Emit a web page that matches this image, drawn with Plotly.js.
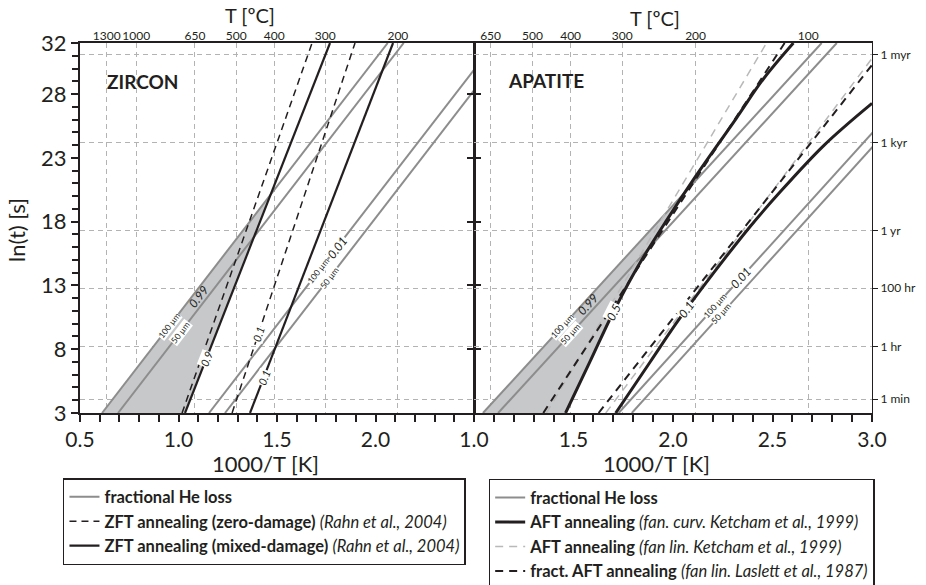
<!DOCTYPE html>
<html><head><meta charset="utf-8">
<script src="https://cdn.plot.ly/plotly-3.0.1.min.js"></script>
<style>html,body{margin:0;padding:0;background:#fff}#chart{width:926px;height:585px}</style>
</head><body><div id="chart"></div>
<script>
// ================= DATA =================
// straight lines: 1000/T [K] values at ln(t) = 3 and ln(t) = 32
const lineY = [3, 32];
// ZIRCON
const zrHe099_100um = [0.612, 2.062];
const zrHe099_50um  = [0.693, 2.143];
const zrHe001_100um = [1.155, 2.605];
const zrHe001_50um  = [1.236, 2.686];
const zrZeroDmg09   = [1.018, 1.678];
const zrZeroDmg01   = [1.272, 1.896];
const zrMixedDmg09  = [1.033, 1.769];
const zrMixedDmg01  = [1.363, 2.089];
// APATITE
const apHe099_100um = [1.045, 2.747];
const apHe099_50um  = [1.121, 2.823];
const apHe001_100um = [1.727, 3.410];
const apHe001_50um  = [1.793, 3.475];
const apKetLin05    = [1.364, 2.470];
const apKetLin01    = [1.662, 3.058];
const apLaslett05   = [1.348, 2.561];
const apLaslett01   = [1.626, 3.087];
// curved fanning (Ketcham et al., 1999)
const apCurv05Y = [3, 7, 10.9, 14.5, 18.2, 21.6, 26.1, 29.2, 32];
const apCurv05X = [1.460, 1.582, 1.700, 1.824, 1.972, 2.116, 2.318, 2.455, 2.605];
const apCurv01Y = [3, 7, 10.33, 14, 17.66, 20.18, 24, 27.27];
const apCurv01X = [1.712, 1.885, 2.030, 2.205, 2.390, 2.530, 2.760, 3.000];
// axes
const lnTicks = [3, 8, 13, 18, 23, 28, 32];
const midTicks = [8, 13, 18, 23, 28];
const zrXTicks = [0.5, 1.0, 1.5, 2.0];
const apXTicks = [1.0, 1.5, 2.0, 2.5, 3.0];
const zrTempC = [1300, 1000, 650, 500, 400, 300, 200];
const apTempC = [650, 500, 400, 300, 200, 100];
const timeLabels = ['1 min', '1 hr', '100 hr', '1 yr', '1 kyr', '1 myr'];
const timeSeconds = [60, 3600, 360000, 31557600, 31557600000, 31557600000000];

// ================= STYLE =================
const FONT = 'Lato, "Open Sans", "DejaVu Sans", sans-serif';
const INK = '#231f20';
const HE = '#8d8d8d';
const SHADE = '#c7c8ca';
const GRID = '#b3b3b3';
const LIGHT = '#b9b9b9';
const SPLIT = 0.4975;

function interp(ys, xs, y) {
  let i = 1;
  while (i < ys.length - 1 && y > ys[i]) i++;
  const t = (y - ys[i-1]) / (ys[i] - ys[i-1]);
  return xs[i-1] + t * (xs[i] - xs[i-1]);
}
function ln(xs, ys, xa, ya, color, width, dash, extra) {
  return Object.assign({type:'scatter', mode:'lines', x:xs, y:ys, xaxis:xa, yaxis:ya,
    line:{color:color, width:width, dash:dash}, hoverinfo:'skip', showlegend:false}, extra || {});
}
function shade(ysL, xsL, ysR, xsR, xa, ya) {
  const lx=[], ly=[], rx=[], ry=[];
  for (let y = lineY[0]; y <= lineY[1]; y += 0.05) {
    const xl = interp(ysL, xsL, y), xr = interp(ysR, xsR, y);
    if (xl >= xr) break;
    lx.push(xl); ly.push(y); rx.push(xr); ry.push(y);
  }
  return {type:'scatter', mode:'lines', x:lx.concat(rx.reverse()), y:ly.concat(ry.reverse()),
    xaxis:xa, yaxis:ya, fill:'toself', fillcolor:SHADE, line:{width:0, color:SHADE},
    hoverinfo:'skip', showlegend:false};
}
function empty(xa, ya) {
  return {type:'scatter', mode:'lines', x:[], y:[], xaxis:xa, yaxis:ya, showlegend:false, hoverinfo:'skip'};
}

const traces = [
  // overlay subplots (axes for temperature, time grid, mid ticks)
  empty('x3', 'y'), empty('x', 'y3'), empty('x', 'y5'), empty('x4', 'y2'), empty('x2', 'y4'),
  // ---- ZIRCON ----
  shade(lineY, zrHe099_100um, lineY, zrMixedDmg09, 'x', 'y'),
  ln(zrHe099_100um, lineY, 'x', 'y', HE, 2, 'solid', {showlegend:true, legend:'legend', name:'<b>fractional He loss</b>'}),
  ln(zrHe099_50um, lineY, 'x', 'y', HE, 2, 'solid'),
  ln(zrHe001_100um, lineY, 'x', 'y', HE, 2, 'solid'),
  ln(zrHe001_50um, lineY, 'x', 'y', HE, 2, 'solid'),
  ln(zrZeroDmg09, lineY, 'x', 'y', INK, 1.5, '7px,5px', {showlegend:true, legend:'legend', name:'<b>ZFT annealing (zero-damage)</b> <i>(Rahn et al., 2004)</i>'}),
  ln(zrZeroDmg01, lineY, 'x', 'y', INK, 1.5, '7px,5px'),
  ln(zrMixedDmg09, lineY, 'x', 'y', INK, 2.2, 'solid', {showlegend:true, legend:'legend', name:'<b>ZFT annealing (mixed-damage)</b> <i>(Rahn et al., 2004)</i>'}),
  ln(zrMixedDmg01, lineY, 'x', 'y', INK, 2.2, 'solid'),
  // ---- APATITE ----
  shade(lineY, apHe099_100um, apCurv05Y, apCurv05X, 'x2', 'y2'),
  ln(apHe099_100um, lineY, 'x2', 'y2', HE, 2, 'solid', {showlegend:true, legend:'legend2', legendrank:1, name:'<b>fractional He loss</b>'}),
  ln(apHe099_50um, lineY, 'x2', 'y2', HE, 2, 'solid'),
  ln(apHe001_100um, lineY, 'x2', 'y2', HE, 2, 'solid'),
  ln(apHe001_50um, lineY, 'x2', 'y2', HE, 2, 'solid'),
  ln(apKetLin05, lineY, 'x2', 'y2', LIGHT, 1.5, '8px,6px', {showlegend:true, legend:'legend2', legendrank:3, name:'<b>AFT annealing</b> <i>(fan lin. Ketcham et al., 1999)</i>'}),
  ln(apKetLin01, lineY, 'x2', 'y2', LIGHT, 1.5, '8px,6px'),
  ln(apLaslett05, lineY, 'x2', 'y2', INK, 2, '8px,6px', {showlegend:true, legend:'legend2', legendrank:4, name:'<b>fract. AFT annealing</b> <i>(fan lin. Laslett et al., 1987)</i>'}),
  ln(apLaslett01, lineY, 'x2', 'y2', INK, 2, '8px,6px'),
  ln(apCurv05X, apCurv05Y, 'x2', 'y2', INK, 3, 'solid', {showlegend:true, legend:'legend2', legendrank:2, name:'<b>AFT annealing</b> <i>(fan. curv. Ketcham et al., 1999)</i>'}),
  ln(apCurv01X, apCurv01Y, 'x2', 'y2', INK, 3, 'solid')
];
traces[traces.length-1].line.shape = 'spline';
traces[traces.length-2].line.shape = 'spline';

// ---- line labels (placed on the lines, computed from the data) ----
function lab(panel, ys, xs, y, text, size, italic, extra) {
  const x = interp(ys, xs, y);
  const dx = interp(ys, xs, y + 0.5) - interp(ys, xs, y - 0.5);
  const pxPerX = panel === 1 ? 197 : 199, pxPerY = 370 / 29;
  const ang = -Math.atan2(pxPerY, dx * pxPerX) * 180 / Math.PI;
  return Object.assign({x:x, y:y, xref: panel===1?'x':'x2', yref: panel===1?'y':'y2', text: italic?('<i>'+text+'</i>'):text,
    textangle: ang, showarrow:false, bgcolor:'white', borderpad:0, xanchor:'center', yanchor:'middle',
    font:{family:FONT, size:size, color:INK}}, extra || {});
}
// label placed between two parallel lines (fraction f of the way from line A to line B)
function labBetween(panel, xsA, xsB, y, f, text, size) {
  const a = lab(panel, lineY, xsA, y, text, size, true);
  a.x = interp(lineY, xsA, y) + f * (interp(lineY, xsB, y) - interp(lineY, xsA, y));
  a.bgcolor = 'rgba(0,0,0,0)';
  return a;
}
function txt(x, y, text, size, extra) {
  return Object.assign({xref:'paper', yref:'paper', x:x, y:y, text:text, showarrow:false,
    xanchor:'center', yanchor:'middle', font:{family:FONT, size:size, color:INK}}, extra || {});
}
const ann = [
  lab(1, lineY, zrHe099_100um, 9.8, '100 µm', 8.5, false),
  lab(1, lineY, zrHe099_50um, 9.3, '50 µm', 8.5, false),
  labBetween(1, zrHe099_100um, zrHe099_50um, 12.1, 0.45, '0.99', 12),
  lab(1, lineY, zrMixedDmg09, 7.2, '0.9', 11, true),
  lab(1, lineY, zrZeroDmg01, 9.15, '0.1', 11, true),
  lab(1, lineY, zrMixedDmg01, 5.8, '0.1', 11, true),
  lab(1, lineY, zrHe001_100um, 14.1, '100 µm', 8.5, false),
  lab(1, lineY, zrHe001_50um, 13.6, '50 µm', 8.5, false),
  lab(1, lineY, zrHe001_100um, 16.0, '0.01', 12, true),
  lab(2, lineY, apHe099_100um, 9.8, '100 µm', 8.5, false),
  lab(2, lineY, apHe099_50um, 9.2, '50 µm', 8.5, false),
  labBetween(2, apHe099_100um, apHe099_50um, 11.5, 0.35, '0.99', 12),
  lab(2, apCurv05Y, apCurv05X, 10.9, '0.5', 12, true),
  lab(2, apCurv01Y, apCurv01X, 11.1, '0.1', 12, true),
  lab(2, lineY, apHe001_100um, 11.35, '100 µm', 8.5, false),
  lab(2, lineY, apHe001_50um, 10.8, '50 µm', 8.5, false),
  lab(2, lineY, apHe001_100um, 13.6, '0.01', 12, true),
  // texts
  txt(0.0795, 0.8946, '<b>ZIRCON</b>', 19),
  txt(0.5884, 0.9000, '<b>APATITE</b>', 19),
  txt(0.2146, 1.0757, 'T [ºC]', 20),
  txt(0.726, 1.0676, 'T [ºC]', 20),
  txt(0.2336, -0.137, '1000/T [K]', 22),
  txt(0.7285, -0.137, '1000/T [K]', 22),
  txt(-0.0795, 0.4946, 'ln(t) [s]', 22, {textangle:-90})
];

const tickFont = {family:FONT, size:21, color:INK};
const base = {showline:true, linecolor:INK, linewidth:2, mirror:true, zeroline:false, showgrid:false,
  ticks:'outside', tickcolor:INK, tickwidth:2, ticklen:7, tickfont:tickFont};
const tempVals = a => a.map(t => 1000 / (t + 273.15));
const timeVals = timeSeconds.map(s => Math.log(s));
const gridAx = {showline:false, zeroline:false, showgrid:true, gridcolor:GRID, griddash:'5px,4px', gridwidth:1};

const layout = {
  width:926, height:585, paper_bgcolor:'white', plot_bgcolor:'rgba(0,0,0,0)',
  margin:{l:80, r:54, t:43, b:172, autoexpand:false},
  font:{family:FONT, color:INK},
  xaxis: Object.assign({}, base, {domain:[0, SPLIT], range:[0.5, 2.5], anchor:'y', tickvals:zrXTicks, tickformat:'.1f',
    minor:{dtick:0.1, tick0:0.5, ticks:'outside', ticklen:7, tickwidth:2, tickcolor:INK, showgrid:false}}),
  xaxis2: Object.assign({}, base, {domain:[SPLIT, 1], range:[1, 3], anchor:'y2', tickvals:apXTicks, tickformat:'.1f',
    minor:{dtick:0.1, tick0:1, ticks:'outside', ticklen:7, tickwidth:2, tickcolor:INK, showgrid:false}}),
  xaxis3: Object.assign({}, gridAx, {overlaying:'x', anchor:'y', side:'top', range:[0.5, 2.5], tickvals:tempVals(zrTempC),
    ticktext:zrTempC.map(String), ticks:'', tickangle:0, tickfont:{family:FONT, size:12, color:INK}}),
  xaxis4: Object.assign({}, gridAx, {overlaying:'x2', anchor:'y2', side:'top', range:[1, 3], tickvals:tempVals(apTempC),
    ticktext:apTempC.map(String), ticks:'', tickangle:0, tickfont:{family:FONT, size:12, color:INK}}),
  yaxis: Object.assign({}, base, {domain:[0, 1], range:[3, 32], anchor:'x', tickvals:lnTicks, tickfont:{family:FONT, size:22, color:INK},
    minor:{dtick:1, tick0:3, ticks:'outside', ticklen:6, tickwidth:2, tickcolor:INK, showgrid:false}}),
  yaxis2: Object.assign({}, base, {domain:[0, 1], range:[3, 32], anchor:'x2', tickvals:midTicks, showticklabels:false, ticklen:6, linewidth:1}),
  yaxis3: Object.assign({}, gridAx, {overlaying:'y', anchor:'x', range:[3, 32], tickvals:timeVals, ticks:'', showticklabels:false}),
  yaxis4: Object.assign({}, gridAx, {overlaying:'y2', anchor:'x2', side:'right', range:[3, 32], tickvals:timeVals,
    ticktext:timeLabels, ticks:'outside', ticklen:5, tickwidth:1, tickcolor:INK, tickfont:{family:FONT, size:12, color:INK}}),
  yaxis5: {overlaying:'y', anchor:'x', side:'right', range:[3, 32], tickvals:midTicks, ticks:'outside', ticklen:6,
    tickwidth:2, tickcolor:INK, showticklabels:false, showgrid:false, showline:false, zeroline:false},
  legend: {x:-0.0215, y:-0.1757, xanchor:'left', yanchor:'top', bordercolor:INK, borderwidth:1.5, bgcolor:'white',
    font:{family:FONT, size:16.5, color:INK}, traceorder:'normal'},
  legend2: {x:0.516, y:-0.178, xanchor:'left', yanchor:'top', bordercolor:INK, borderwidth:1.5, bgcolor:'white',
    font:{family:FONT, size:16.5, color:INK}, traceorder:'normal'},
  annotations: ann,
  showlegend:true
};

Plotly.newPlot('chart', traces, layout, {staticPlot:true, displayModeBar:false});
</script>
</body></html>
